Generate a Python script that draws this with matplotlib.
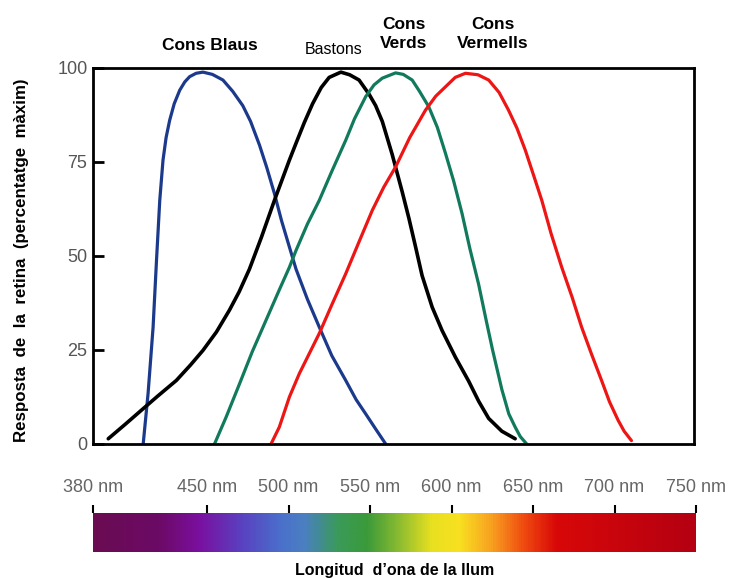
import numpy as np
import matplotlib
matplotlib.use("Agg")
from matplotlib import pyplot as plt
from matplotlib.colors import LinearSegmentedColormap

plt.rcParams['font.family'] = ['Liberation Sans', 'DejaVu Sans']

# Curves: wavelength [nm], response [% of max]
blue_nm = [410.9, 413.9, 417.0, 419.1, 421.1, 423.1, 425.0, 427.2, 430.0, 433.4, 436.5,
           439.5, 443.5, 447.7, 453.5, 460.0, 466.0, 472.2, 477.0, 482.5, 487.0, 491.7,
           496.0, 500.9, 505.0, 512.0, 519.3, 527.0, 535.6, 542.0, 547.9, 554.0, 560.2]
blue_val = [0, 13.4, 31.1, 48.9, 64.8, 75.5, 81.5, 86.1, 90.5, 94.1, 96.3,
            97.7, 98.6, 98.9, 98.3, 96.8, 93.8, 90.0, 85.8, 79.5, 73.5, 66.6,
            59.5, 52.4, 46.5, 38.5, 31.1, 23.5, 16.9, 11.8, 8.0, 4.0, 0]

rod_nm = [389.4, 400.0, 410.9, 420.0, 431.3, 440.0, 447.7, 456.0, 464.0, 470.0, 476.3,
          483.7, 491.7, 500.9, 505.0, 510.1, 515.2, 520.5, 525.4, 532.6, 538.0, 543.8,
          550.0, 554.0, 558.1, 564.2, 570.4, 574.5, 578.6, 582.6, 588.8, 594.9, 603.1,
          611.3, 617.4, 623.6, 631.7, 639.9]
rod_val = [1.4, 5.3, 9.4, 12.8, 16.9, 21.0, 24.9, 29.8, 35.6, 40.5, 46.5,
           55.0, 64.8, 75.5, 80.0, 85.5, 90.5, 94.8, 97.5, 98.9, 98.2, 96.8,
           93.0, 90.0, 85.8, 77.0, 67.0, 60.0, 52.4, 44.8, 36.4, 30.2, 23.1,
           16.7, 11.4, 6.8, 3.4, 1.4]

green_nm = [454.8, 462.0, 470.2, 478.0, 486.6, 494.7, 500.9, 505.0, 512.0, 519.3, 527.0,
            535.6, 541.0, 547.9, 553.0, 558.1, 566.3, 571.0, 576.5, 581.0, 586.7, 592.0,
            597.0, 602.0, 607.2, 612.0, 617.4, 622.0, 626.0, 631.7, 636.0, 639.9, 643.0,
            647.0]
green_val = [0, 7.2, 16.0, 24.5, 33.0, 41.0, 47.0, 51.5, 58.5, 64.8, 72.5,
             80.8, 86.5, 92.4, 95.5, 97.3, 98.7, 98.3, 96.8, 93.8, 89.7, 84.2,
             77.3, 70.0, 61.3, 52.0, 42.5, 33.0, 25.0, 14.5, 8.0, 4.5, 2.0,
             0]

red_nm = [489.6, 494.7, 500.9, 507.0, 519.3, 527.0, 535.6, 544.0, 552.0, 559.0, 566.3,
          575.0, 584.7, 591.0, 597.0, 603.0, 609.3, 617.0, 623.6, 630.0, 635.8, 641.0,
          646.1, 651.0, 656.3, 662.0, 668.5, 675.0, 680.8, 687.0, 693.1, 698.0, 703.3,
          707.0, 711.5]
red_val = [0, 4.5, 12.5, 18.7, 29.4, 37.0, 45.3, 54.0, 62.2, 68.3, 73.7,
           81.5, 88.8, 92.5, 95.0, 97.5, 98.6, 98.2, 96.8, 93.5, 88.8, 84.0,
           78.2, 71.8, 64.8, 56.0, 47.1, 39.0, 31.1, 23.8, 16.9, 11.2, 6.3,
           3.4, 0.9]

y_ticks = [0, 25, 50, 75, 100]
nm_ticks = [380, 450, 500, 550, 600, 650, 700, 750]

# colour stops of the spectrum strip
spectrum_nm = [380, 420, 445, 470, 495, 510, 530, 548, 568, 588, 605, 625, 645, 665, 750]
spectrum_colors = ['#6a0c52', '#6c0a66', '#7a10a0', '#5a40c0', '#4a70cc', '#4a80c0',
                   '#3a9a5a', '#3a9a3a', '#8cbc30', '#e8e020', '#f8e020', '#f8a020',
                   '#f04a10', '#d80808', '#b40012']

fig = plt.figure(figsize=(7.47, 5.78), dpi=100)

ax = fig.add_axes([93 / 747, 1 - 444 / 578, 601 / 747, 376 / 578])
ax.plot(blue_nm, blue_val, color='#1c3a8c', lw=2.3, solid_capstyle='round')
ax.plot(rod_nm, rod_val, color='black', lw=2.6, solid_capstyle='round')
ax.plot(green_nm, green_val, color='#127a5c', lw=2.3, solid_capstyle='round')
ax.plot(red_nm, red_val, color='#ee1515', lw=2.3, solid_capstyle='round')
ax.set_xlim(380, 750)
ax.set_ylim(0, 100)
ax.set_xticks([])
ax.set_yticks(y_ticks)
ax.tick_params(axis='y', direction='in', length=8, width=2, labelsize=13,
               labelcolor='#555555', pad=4)
for s in ax.spines.values():
    s.set_linewidth(2)

fig.text(22 / 747, 1 - 260 / 578, 'Resposta  de  la  retina  (percentatge  màxim)',
         rotation=90, ha='center', va='center', fontsize=12.2, fontweight='bold')

# labels over the peaks
fig.text(210 / 747, 1 - 46 / 578, 'Cons Blaus', ha='center', va='center',
         fontsize=12.5, fontweight='bold')
fig.text(334 / 747, 1 - 50 / 578, 'Bastons', ha='center', va='center', fontsize=11.5)
fig.text(404 / 747, 1 - 34 / 578, 'Cons\nVerds', ha='center', va='center',
         fontsize=12.5, fontweight='bold', linespacing=1.3)
fig.text(493 / 747, 1 - 34 / 578, 'Cons\nVermells', ha='center', va='center',
         fontsize=12.5, fontweight='bold', linespacing=1.3)

# spectrum strip
cmap = LinearSegmentedColormap.from_list(
    'spec', [((n - 380) / 370, c) for n, c in zip(spectrum_nm, spectrum_colors)])
sax = fig.add_axes([93 / 747, 1 - 552 / 578, 603 / 747, 39 / 578])
grad = np.linspace(380, 750, 600).reshape(1, -1)
sax.imshow(grad, cmap=cmap, aspect='auto', extent=[380, 750, 0, 1], vmin=380, vmax=750)
sax.set_xlim(380, 750)
sax.set_yticks([])
sax.set_xticks(nm_ticks)
sax.set_xticklabels([f'{t} nm' for t in nm_ticks])
sax.xaxis.tick_top()
sax.tick_params(axis='x', direction='out', length=6, width=1.5, labelsize=13,
                labelcolor='#666666', pad=6)
for s in sax.spines.values():
    s.set_visible(False)

fig.text(395 / 747, 1 - 570 / 578, 'Longitud  d’ona de la llum', ha='center',
         va='center', fontsize=11.5, fontweight='bold')

fig.savefig('out.png', dpi=100)
